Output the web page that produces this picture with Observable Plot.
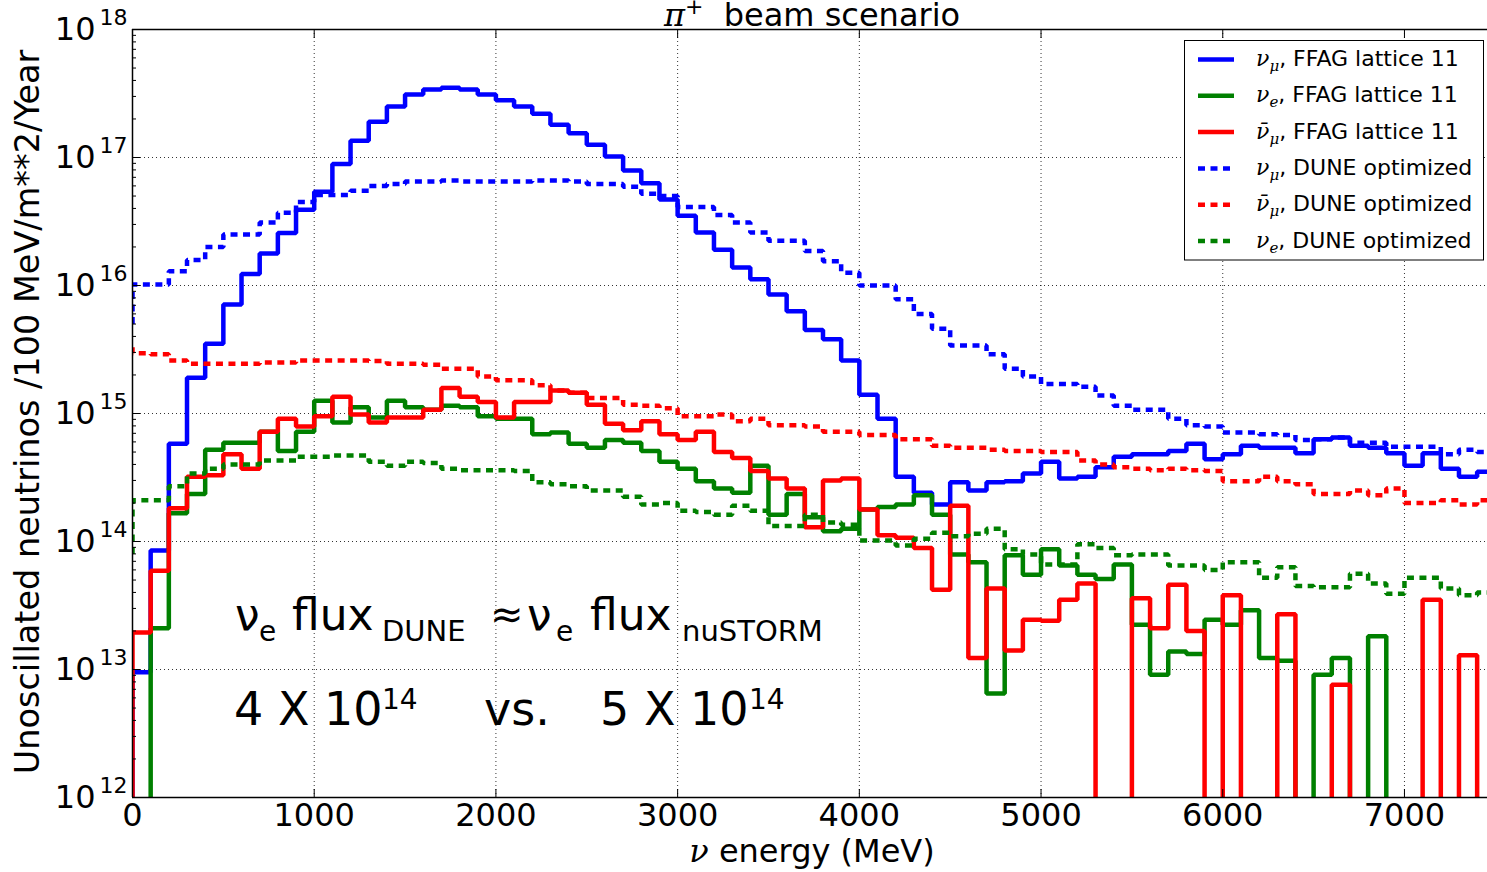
<!DOCTYPE html>
<html><head><meta charset="utf-8">
<script src="https://cdn.jsdelivr.net/npm/d3@7"></script>
<script src="https://cdn.jsdelivr.net/npm/@observablehq/plot@0.6"></script>
<style>
html,body{margin:0;padding:0;background:#fff;overflow:hidden}
#chart{position:relative;width:1487px;height:872px}
</style></head><body><div id="chart"></div>
<script>
// ---- data: 100 MeV bins starting at 0 MeV (flux per bin) ----
const binWidth = 100;
const xTicks = [0, 1000, 2000, 3000, 4000, 5000, 6000, 7000];
const decades = [1e12, 1e13, 1e14, 1e15, 1e16, 1e17, 1e18];

const nuMuFFAG = [9.5e12, 8.5e13, 5.8e14, 1.9e15, 3.5e15, 7.1e15, 1.23e16, 1.78e16, 2.57e16, 3.9e16,
 5.4e16, 8.9e16, 1.35e17, 1.9e17, 2.5e17, 3.1e17, 3.4e17, 3.5e17, 3.4e17, 3.1e17,
 2.8e17, 2.5e17, 2.2e17, 1.8e17, 1.55e17, 1.26e17, 1.02e17, 7.9e16, 6.3e16, 4.7e16,
 3.5e16, 2.6e16, 1.9e16, 1.38e16, 1.12e16, 8.5e15, 6.3e15, 4.5e15, 3.8e15, 2.6e15,
 1.4e15, 9.1e14, 3.2e14, 2.4e14, 1.95e14, 2.9e14, 2.5e14, 2.9e14, 2.95e14, 3.4e14,
 4.2e14, 3.1e14, 3.2e14, 3.8e14, 4.6e14, 4.8e14, 4.8e14, 5.1e14, 5.8e14, 4.4e14,
 4.8e14, 5.6e14, 5.4e14, 5.4e14, 4.9e14, 6.3e14, 6.5e14, 5.6e14, 5.4e14, 4.9e14,
 3.9e14, 4.9e14, 3.7e14, 3.2e14, 3.5e14];

const nuEFFAG = [0, 2.1e13, 1.66e14, 2.35e14, 5.2e14, 5.9e14, 5.9e14, 7.2e14, 5.1e14, 7.2e14,
 1.26e15, 8.5e14, 1.12e15, 9.3e14, 1.26e15, 1.12e15, 1.07e15, 1.15e15, 1.12e15, 9.5e14,
 9.1e14, 9.1e14, 6.9e14, 7.1e14, 5.8e14, 5.4e14, 6.2e14, 5.9e14, 5.1e14, 4.2e14,
 3.7e14, 2.95e14, 2.6e14, 2.4e14, 3.9e14, 1.62e14, 2.35e14, 1.55e14, 1.2e14, 1.26e14,
 1.78e14, 1.86e14, 1.95e14, 2.3e14, 1.62e14, 7.9e13, 6.9e13, 6.5e12, 7.8e13, 5.5e13,
 8.7e13, 6.5e13, 5.5e13, 5.1e13, 6.6e13, 2.24e13, 9.1e12, 1.38e13, 1.32e13, 2.45e13,
 2.24e13, 2.9e13, 1.23e13, 1.17e13, 0, 9.1e12, 1.23e13, 0, 1.82e13, 0,
 0, 0, 0, 0, 0];

const nuMuBarFFAG = [1.95e13, 5.9e13, 1.82e14, 3.2e14, 3.3e14, 4.8e14, 3.7e14, 7.2e14, 9.1e14, 7.9e14,
 9.5e14, 1.35e15, 9.8e14, 8.5e14, 9.3e14, 9.3e14, 1.07e15, 1.58e15, 1.35e15, 1.23e15,
 9.3e14, 1.23e15, 1.23e15, 1.51e15, 1.45e15, 1.17e15, 8.3e14, 7.4e14, 8.7e14, 6.9e14,
 6.2e14, 7.2e14, 5.0e14, 4.5e14, 3.55e14, 3.1e14, 2.6e14, 1.29e14, 3.0e14, 3.1e14,
 1.78e14, 1.12e14, 1.07e14, 8.9e13, 4.2e13, 1.9e14, 1.23e13, 4.3e13, 1.41e13, 2.45e13,
 2.4e13, 3.5e13, 4.7e13, 0, 0, 3.6e13, 2.1e13, 4.6e13, 2.0e13, 0,
 3.8e13, 0, 0, 2.7e13, 0, 0, 7.6e12, 0, 0, 0,
 0, 3.5e13, 0, 1.29e13, 0];

const nuMuDUNE = [1.02e16, 1.02e16, 1.29e16, 1.58e16, 2.0e16, 2.5e16, 2.5e16, 3.1e16, 3.7e16, 4.5e16,
 5.1e16, 5.1e16, 5.5e16, 6.0e16, 6.2e16, 6.5e16, 6.5e16, 6.6e16, 6.5e16, 6.5e16,
 6.5e16, 6.5e16, 6.6e16, 6.6e16, 6.5e16, 6.2e16, 6.2e16, 5.9e16, 5.2e16, 5.0e16,
 4.1e16, 4.1e16, 3.55e16, 3.1e16, 2.6e16, 2.24e16, 2.24e16, 1.86e16, 1.55e16, 1.26e16,
 1.0e16, 1.0e16, 7.8e15, 6.0e15, 4.6e15, 3.4e15, 3.4e15, 2.9e15, 2.24e15, 1.95e15,
 1.7e15, 1.7e15, 1.62e15, 1.38e15, 1.15e15, 1.07e15, 1.07e15, 9.1e14, 8.1e14, 7.9e14,
 7.1e14, 7.1e14, 6.9e14, 6.8e14, 6.2e14, 6.3e14, 6.5e14, 5.9e14, 5.9e14, 5.5e14,
 5.5e14, 5.5e14, 4.8e14, 5.2e14, 5.0e14];

const nuMuBarDUNE = [2.95e15, 2.9e15, 2.6e15, 2.45e15, 2.45e15, 2.45e15, 2.45e15, 2.5e15, 2.5e15, 2.6e15,
 2.6e15, 2.6e15, 2.6e15, 2.57e15, 2.45e15, 2.45e15, 2.4e15, 2.24e15, 2.24e15, 1.95e15,
 1.82e15, 1.82e15, 1.66e15, 1.51e15, 1.45e15, 1.32e15, 1.32e15, 1.17e15, 1.15e15, 1.1e15,
 9.5e14, 9.5e14, 9.8e14, 8.7e14, 9.1e14, 8.1e14, 8.1e14, 7.9e14, 7.2e14, 7.2e14,
 6.8e14, 6.8e14, 6.3e14, 6.3e14, 5.6e14, 5.4e14, 5.4e14, 5.2e14, 5.1e14, 5.1e14,
 5.0e14, 5.0e14, 4.3e14, 4.0e14, 3.8e14, 3.7e14, 3.6e14, 3.7e14, 3.6e14, 3.55e14,
 2.95e14, 2.95e14, 3.2e14, 2.95e14, 2.8e14, 2.35e14, 2.35e14, 2.5e14, 2.3e14, 2.6e14,
 2.0e14, 2.0e14, 2.1e14, 1.95e14, 2.1e14];

const nuEDUNE = [2.1e14, 2.1e14, 2.7e14, 3.4e14, 3.7e14, 4.0e14, 4.0e14, 4.3e14, 4.3e14, 4.6e14,
 4.6e14, 4.7e14, 4.7e14, 4.2e14, 3.9e14, 4.2e14, 4.1e14, 3.7e14, 3.6e14, 3.6e14,
 3.6e14, 3.55e14, 2.9e14, 2.8e14, 2.7e14, 2.5e14, 2.5e14, 2.24e14, 1.95e14, 2.0e14,
 1.74e14, 1.7e14, 1.62e14, 1.9e14, 1.74e14, 1.32e14, 1.32e14, 1.62e14, 1.41e14, 1.35e14,
 1.02e14, 1.02e14, 9.3e13, 1.05e14, 1.17e14, 1.1e14, 1.15e14, 1.26e14, 8.7e13, 7.9e13,
 6.6e13, 6.6e13, 9.5e13, 8.9e13, 7.8e13, 7.9e13, 7.9e13, 6.5e13, 6.5e13, 6.0e13,
 6.9e13, 6.9e13, 5.2e13, 6.3e13, 4.5e13, 4.4e13, 4.4e13, 5.6e13, 4.7e13, 3.9e13,
 5.2e13, 5.2e13, 4.3e13, 3.8e13, 4.0e13];

// value at the 0 MeV edge where each DUNE curve begins
const duneStart = {nuMu: 5.0e15, nuMuBar: 3.3e15, nuE: 8.0e13};

// ---- build step series ----
const floor = 1e9; // stands for an empty bin on the log axis (drawn below the frame, clipped)
function steps(values, start) {
  const pts = [{E: 0, v: start}];
  values.forEach((v, i) => pts.push({E: i * binWidth, v: v > 0 ? v : floor}));
  const last = values[values.length - 1];
  pts.push({E: values.length * binWidth, v: last > 0 ? last : floor});
  return pts;
}
const dotted = "7,5.5";
const series = [
  {data: steps(nuMuFFAG, floor), color: "#0000ff", dash: null},
  {data: steps(nuEFFAG, floor), color: "#008000", dash: null},
  {data: steps(nuMuBarFFAG, floor), color: "#ff0000", dash: null},
  {data: steps(nuMuDUNE, duneStart.nuMu), color: "#0000ff", dash: dotted},
  {data: steps(nuMuBarDUNE, duneStart.nuMuBar), color: "#ff0000", dash: dotted},
  {data: steps(nuEDUNE, duneStart.nuE), color: "#008000", dash: dotted}
];

const minorY = [];
for (let k = 12; k < 18; k++) for (let m = 2; m <= 9; m++) minorY.push(m * Math.pow(10, k));

const lineMarks = series.map(s => Plot.line(s.data, {
  x: "E", y: "v", curve: "step-after", stroke: s.color, strokeWidth: 4.5,
  strokeDasharray: s.dash || undefined, strokeLinejoin: "miter", strokeLinecap: "butt", clip: true
}));

const plot = Plot.plot({
  width: 1487, height: 872,
  marginLeft: 132, marginRight: 0, marginTop: 29, marginBottom: 75,
  style: {fontFamily: "DejaVu Sans", fontSize: "32px", background: "white", color: "black"},
  x: {domain: [0, 7457]},
  y: {type: "log", domain: [1e12, 1e18]},
  marks: [
    Plot.gridX(xTicks, {stroke: "black", strokeOpacity: 0.8, strokeDasharray: "1,3", strokeWidth: 1}),
    Plot.gridY(decades, {stroke: "black", strokeOpacity: 0.8, strokeDasharray: "1,3", strokeWidth: 1}),
    ...lineMarks,
    Plot.ruleY([1e12, 1e18], {stroke: "black", strokeWidth: 1.5}),
    Plot.ruleX([0], {stroke: "black", strokeWidth: 1.5}),
    Plot.axisX(xTicks, {anchor: "bottom", tickSize: -8, tickFormat: () => "", label: null}),
    Plot.axisX(xTicks, {anchor: "top", tickSize: -8, tickFormat: () => "", label: null}),
    Plot.axisX(xTicks, {anchor: "bottom", tickSize: 0, tickPadding: 6, fontSize: 32, tickFormat: d => String(d), label: null}),
    Plot.axisY(decades, {anchor: "left", tickSize: -8, tickFormat: () => "", label: null}),
    Plot.axisY(minorY, {anchor: "left", tickSize: -4, tickFormat: () => "", label: null}),
    Plot.text(decades, {y: d => d, frameAnchor: "left", text: () => "10", textAnchor: "end", dx: -37, fontSize: 32}),
    Plot.text(decades, {y: d => d, frameAnchor: "left", text: d => String(Math.round(Math.log10(d))), textAnchor: "start", dx: -33, dy: -11.5, fontSize: 22})
  ]
});
document.getElementById("chart").appendChild(plot);

// ---- annotations, labels, legend ----
const svg = d3.select(plot);
const g = svg.append("g").attr("font-family", "DejaVu Sans").attr("fill", "black").attr("text-anchor", "start");
const mathFont = "DejaVu Serif";

// title
const title = g.append("text").attr("x", 812).attr("y", 26).attr("text-anchor", "middle").attr("font-size", 32);
title.append("tspan").attr("font-family", mathFont).attr("font-style", "italic").text("π");
title.append("tspan").attr("font-size", 22).attr("dy", -12).text("+");
title.append("tspan").attr("dy", 12).text("  beam scenario");

// x label
const xl = g.append("text").attr("x", 812).attr("y", 862).attr("text-anchor", "middle").attr("font-size", 32);
xl.append("tspan").attr("font-family", mathFont).attr("font-style", "italic").text("ν");
xl.append("tspan").text(" energy (MeV)");

// y label
g.append("text").attr("transform", "translate(39,412) rotate(-90)").attr("text-anchor", "middle")
  .attr("font-size", 33.5).text("Unoscillated neutrinos /100 MeV/m**2/Year");

// legend
const legendRows = [
  {bar: false, sub: "μ", text: ", FFAG lattice 11", color: "#0000ff", dash: null},
  {bar: false, sub: "e", text: ", FFAG lattice 11", color: "#008000", dash: null},
  {bar: true, sub: "μ", text: ", FFAG lattice 11", color: "#ff0000", dash: null},
  {bar: false, sub: "μ", text: ", DUNE optimized", color: "#0000ff", dash: dotted},
  {bar: true, sub: "μ", text: ", DUNE optimized", color: "#ff0000", dash: dotted},
  {bar: false, sub: "e", text: ", DUNE optimized", color: "#008000", dash: dotted}
];
const lg = g.append("g");
lg.append("rect").attr("x", 1184.5).attr("y", 40.5).attr("width", 299).attr("height", 219.5)
  .attr("fill", "white").attr("stroke", "black").attr("stroke-width", 1);
legendRows.forEach((r, i) => {
  const yl = 59.5 + 36.3 * i;
  lg.append("line").attr("x1", 1198).attr("x2", 1234).attr("y1", yl).attr("y2", yl)
    .attr("stroke", r.color).attr("stroke-width", 4.5).attr("stroke-dasharray", r.dash);
  const t = lg.append("text").attr("x", 1256).attr("y", yl + 6.5).attr("font-size", 22).attr("text-anchor", "start");
  t.append("tspan").attr("font-family", mathFont).attr("font-style", "italic")
    .text(r.bar ? "ν\u0304" : "ν");
  t.append("tspan").attr("font-family", mathFont).attr("font-style", "italic").attr("font-size", 15).attr("dy", 5).text(r.sub);
  t.append("tspan").attr("dy", -5).text(r.text);
});

// annotation
const ann = g.append("g").attr("font-family", "DejaVu Sans").attr("text-anchor", "start");
function piece(x, y, size, str) {
  return ann.append("text").attr("x", x).attr("y", y).attr("font-size", size).attr("text-anchor", "start").text(str);
}
piece(235, 630, 44, "ν");
piece(259, 641, 28, "e");
piece(292, 630, 44, "flux");
piece(382, 641, 29, "DUNE");
piece(490, 628, 40, "≈");
piece(527, 630, 44, "ν");
piece(556, 641, 28, "e");
piece(590, 630, 44, "flux");
piece(682, 641, 29, "nuSTORM");
piece(234, 725, 46, "4 X 10");
piece(382, 709, 28, "14");
piece(484, 725, 46, "vs.");
piece(600, 725, 46, "5 X 10");
piece(749, 709, 28, "14");
</script></body></html>
